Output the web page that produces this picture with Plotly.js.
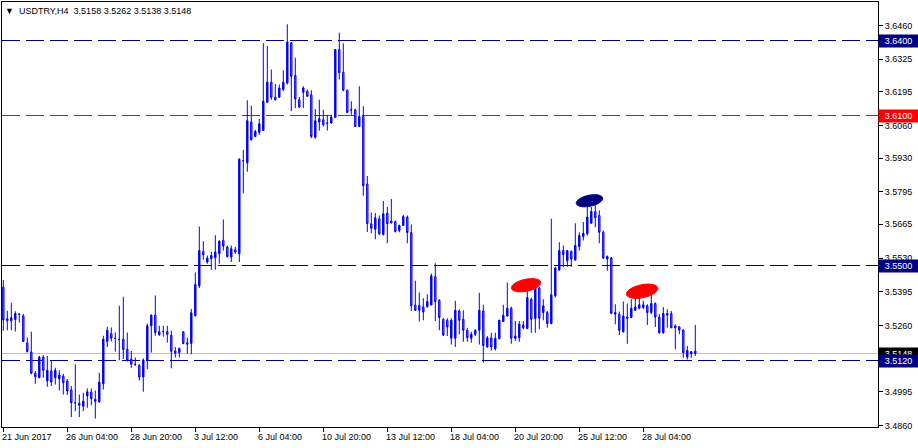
<!DOCTYPE html>
<html>
<head>
<meta charset="utf-8">
<script src="https://cdn.plot.ly/plotly-3.0.1.min.js"></script>
<style>html,body{margin:0;padding:0;background:#fff;}#chart{width:918px;height:448px;}</style>
</head>
<body>
<div id="chart"></div>
<script>
// ---- DATA (USDTRY, H4) ----
const symbol = "USDTRY,H4";
const openP = [
3.5413,3.5287,3.5279,3.5284,3.5304,3.5299,3.5191,3.5154,3.5069,3.5051,
3.5134,3.5038,3.5078,3.5051,3.5047,3.5058,3.5038,3.5002,3.4951,3.4949,
3.4937,3.4978,3.4994,3.4957,3.4955,3.5027,3.5196,3.5228,3.5209,3.5205,
3.5205,3.5165,3.5125,3.5105,3.5101,3.5054,3.5121,3.5259,3.5302,3.5223,
3.5235,3.5236,3.5221,3.5158,3.5152,3.5235,3.5185,3.5188,3.5299,3.5419,
3.5556,3.5514,3.5527,3.5531,3.5547,3.5601,3.5574,3.5534,3.5563,3.5547,
3.5920,3.5911,3.6074,3.6016,3.6033,3.6040,3.6153,3.6233,3.6173,3.6173,
3.6204,3.6230,3.6391,3.6260,3.6163,3.6193,3.6197,3.6183,3.6013,3.6074,
3.6083,3.6070,3.6070,3.6092,3.6364,3.6273,3.6201,3.6123,3.6123,3.6056,
3.6096,3.5826,3.5667,3.5645,3.5687,3.5624,3.5710,3.5678,3.5676,3.5640,
3.5660,3.5694,3.5632,3.5342,3.5341,3.5335,3.5335,3.5342,3.5455,3.5361,
3.5285,3.5281,3.5209,3.5209,3.5318,3.5285,3.5241,3.5209,3.5225,3.5241,
3.5318,3.5174,3.5211,3.5167,3.5207,3.5276,3.5298,3.5329,3.5218,3.5211,
3.5262,3.5248,3.5365,3.5288,3.5410,3.5312,3.5312,3.5268,3.5379,3.5482,
3.5560,3.5519,3.5557,3.5522,3.5576,3.5616,3.5627,3.5669,3.5716,3.5700,
3.5633,3.5526,3.5530,3.5312,3.5305,3.5235,3.5294,3.5292,3.5321,3.5329,
3.5332,3.5339,3.5312,3.5348,3.5294,3.5231,3.5302,3.5308,3.5251,3.5255,
3.5242,3.5134,3.5147,3.5158];
const highP = [
3.5442,3.5319,3.5351,3.5317,3.5308,3.5306,3.5212,3.5235,3.5078,3.5138,
3.5141,3.5138,3.5121,3.5091,3.5081,3.5067,3.5046,3.5018,3.5105,3.4984,
3.4991,3.5008,3.5008,3.5000,3.5071,3.5219,3.5255,3.5252,3.5232,3.5339,
3.5375,3.5232,3.5158,3.5132,3.5105,3.5128,3.5268,3.5303,3.5380,3.5259,
3.5259,3.5259,3.5239,3.5174,3.5172,3.5236,3.5212,3.5326,3.5472,3.5656,
3.5597,3.5540,3.5554,3.5621,3.5601,3.5684,3.5580,3.5580,3.5574,3.5929,
3.5962,3.6161,3.6139,3.6043,3.6086,3.6389,3.6378,3.6284,3.6226,3.6224,
3.6281,3.6465,3.6394,3.6331,3.6174,3.6217,3.6204,3.6201,3.6126,3.6163,
3.6123,3.6103,3.6103,3.6366,3.6431,3.6389,3.6204,3.6157,3.6126,3.6217,
3.6137,3.5858,3.5712,3.5710,3.5700,3.5758,3.5734,3.5766,3.5680,3.5664,
3.5702,3.5700,3.5664,3.5439,3.5392,3.5369,3.5385,3.5468,3.5509,3.5365,
3.5289,3.5289,3.5289,3.5359,3.5325,3.5321,3.5251,3.5235,3.5245,3.5391,
3.5343,3.5218,3.5231,3.5231,3.5283,3.5343,3.5432,3.5335,3.5278,3.5278,
3.5278,3.5412,3.5372,3.5446,3.5415,3.5365,3.5318,3.5687,3.5495,3.5593,
3.5580,3.5562,3.5560,3.5669,3.5633,3.5674,3.5745,3.5734,3.5741,3.5720,
3.5640,3.5540,3.5533,3.5345,3.5316,3.5356,3.5348,3.5365,3.5405,3.5385,
3.5359,3.5345,3.5392,3.5352,3.5305,3.5334,3.5325,3.5318,3.5265,3.5258,
3.5245,3.5178,3.5158,3.5262];
const lowP = [
3.5239,3.5241,3.5241,3.5236,3.5272,3.5194,3.5152,3.5065,3.5027,3.5049,
3.5051,3.5015,3.5018,3.5024,3.5000,3.4984,3.4982,3.4894,3.4917,3.4894,
3.4917,3.4931,3.4941,3.4888,3.4951,3.5004,3.5174,3.5196,3.5156,3.5121,
3.5126,3.5116,3.5091,3.5098,3.5040,3.4995,3.5085,3.5152,3.5219,3.5219,
3.5215,3.5192,3.5089,3.5132,3.5132,3.5185,3.5148,3.5145,3.5296,3.5410,
3.5523,3.5507,3.5483,3.5483,3.5507,3.5560,3.5531,3.5514,3.5547,3.5514,
3.5788,3.5875,3.6000,3.6013,3.6023,3.6040,3.6150,3.6163,3.6160,3.6170,
3.6197,3.6224,3.6117,3.6130,3.6130,3.6130,3.6174,3.6009,3.6007,3.6039,
3.6056,3.6040,3.6067,3.6090,3.6244,3.6197,3.6110,3.6103,3.6054,3.6054,
3.5779,3.5634,3.5629,3.5605,3.5621,3.5620,3.5589,3.5669,3.5632,3.5633,
3.5659,3.5589,3.5318,3.5318,3.5276,3.5281,3.5332,3.5342,3.5278,3.5241,
3.5218,3.5218,3.5184,3.5174,3.5225,3.5195,3.5195,3.5191,3.5218,3.5184,
3.5111,3.5171,3.5160,3.5160,3.5205,3.5274,3.5296,3.5187,3.5198,3.5195,
3.5245,3.5245,3.5231,3.5231,3.5245,3.5281,3.5251,3.5265,3.5372,3.5479,
3.5493,3.5495,3.5495,3.5519,3.5560,3.5600,3.5620,3.5667,3.5653,3.5589,
3.5526,3.5479,3.5305,3.5265,3.5222,3.5231,3.5187,3.5289,3.5318,3.5325,
3.5325,3.5262,3.5305,3.5254,3.5227,3.5227,3.5251,3.5249,3.5164,3.5225,
3.5131,3.5124,3.5131,3.5138];
const closeP = [
3.5282,3.5279,3.5291,3.5308,3.5306,3.5196,3.5156,3.5069,3.5055,3.5134,
3.5081,3.5081,3.5034,3.5081,3.5062,3.5031,3.4998,3.4951,3.4950,3.4941,
3.4957,3.4995,3.4967,3.4965,3.5034,3.5205,3.5241,3.5209,3.5208,3.5204,
3.5164,3.5121,3.5105,3.5104,3.5054,3.5122,3.5259,3.5302,3.5232,3.5235,
3.5236,3.5225,3.5157,3.5150,3.5168,3.5188,3.5191,3.5311,3.5424,3.5560,
3.5543,3.5530,3.5540,3.5554,3.5597,3.5578,3.5536,3.5567,3.5554,3.5925,
3.5919,3.6079,3.6003,3.6036,3.6067,3.6157,3.6233,3.6173,3.6163,3.6210,
3.6233,3.6394,3.6257,3.6166,3.6134,3.6210,3.6177,3.6016,3.6079,3.6087,
3.6063,3.6069,3.6094,3.6364,3.6271,3.6201,3.6112,3.6122,3.6056,3.6096,
3.5819,3.5668,3.5649,3.5691,3.5627,3.5707,3.5667,3.5670,3.5636,3.5660,
3.5696,3.5632,3.5339,3.5321,3.5321,3.5314,3.5356,3.5459,3.5356,3.5292,
3.5222,3.5254,3.5281,3.5321,3.5281,3.5241,3.5211,3.5225,3.5241,3.5321,
3.5180,3.5211,3.5174,3.5209,3.5281,3.5301,3.5329,3.5209,3.5209,3.5265,
3.5251,3.5372,3.5285,3.5412,3.5289,3.5339,3.5268,3.5383,3.5490,3.5560,
3.5544,3.5560,3.5526,3.5580,3.5620,3.5629,3.5694,3.5716,3.5691,3.5633,
3.5530,3.5536,3.5309,3.5305,3.5241,3.5298,3.5289,3.5329,3.5334,3.5343,
3.5343,3.5312,3.5348,3.5294,3.5231,3.5308,3.5308,3.5251,3.5258,3.5242,
3.5151,3.5160,3.5155,3.5148];

// time-axis labels (bar index -> text)
const timeTickIdx = [0,16,32,48,64,80,96,112,128,144,160];
const timeTickText = ["21 Jun 2017","26 Jun 04:00","28 Jun 20:00","3 Jul 12:00","6 Jul 04:00",
  "10 Jul 20:00","13 Jul 12:00","18 Jul 04:00","20 Jul 20:00","25 Jul 12:00","28 Jul 04:00"];
// price-axis ticks
const priceTicks = [3.6460,3.6325,3.6195,3.6060,3.5930,3.5795,3.5665,3.5530,3.5395,3.5260,3.4995,3.4860];
// horizontal levels
const levelPrices = [3.6400, 3.6100, 3.5500, 3.5120];
const levelColors = ["#000080", "#ff0000", "#000080", "#000080"];
// marker ellipses (bar index, price)
const ellipseIdx = [130.7, 146.55, 159.7];
const ellipsePrice = [3.5421, 3.5759, 3.5397];
const ellipseColors = ["#ff0000", "#000080", "#ff0000"];

// ---- CHART ----
const W = 918, H = 448;
const M = {l: 2, r: 40, t: 2, b: 21};
const plotW = W - M.l - M.r, plotH = H - M.t - M.b;
const xr = [-0.325, -0.325 + plotW / 4];
const yTop = 3.6554, perPx = 0.0004;
const yr = [yTop - plotH * perPx, yTop];
const idx = openP.map((_, i) => i);
const last = closeP[closeP.length - 1];

function ellipsePath(cx, cy, a, b, deg) {
  const ppx = plotW / (xr[1] - xr[0]), ppy = plotH / (yr[1] - yr[0]);
  const th = deg * Math.PI / 180;
  let d = '';
  for (let k = 0; k <= 48; k++) {
    const t = k / 48 * 2 * Math.PI;
    const dx = a * Math.cos(t) * Math.cos(th) - b * Math.sin(t) * Math.sin(th);
    const dy = a * Math.cos(t) * Math.sin(th) + b * Math.sin(t) * Math.cos(th);
    d += (k ? 'L' : 'M') + (cx + dx / ppx).toFixed(4) + ',' + (cy + dy / ppy).toFixed(6);
  }
  return d + 'Z';
}

const FONT = "Liberation Sans, Arial, sans-serif";
const shapes = [];
shapes.push({type: 'line', xref: 'paper', x0: 0, x1: 1, yref: 'y', y0: last, y1: last,
  line: {color: '#c0c0c0', width: 1}, layer: 'below'});
levelPrices.forEach((p, k) => shapes.push({type: 'line', xref: 'paper', x0: 0, x1: 1, yref: 'y', y0: p, y1: p,
  line: {color: levelColors[k], width: 1, dash: '18px,6px'}, layer: 'below'}));
const ellA = [15, 13.5, 16], ellB = [6, 5.5, 6.5];
ellipseIdx.forEach((x, k) => shapes.push({type: 'path', xref: 'x', yref: 'y',
  path: ellipsePath(x, ellipsePrice[k], ellA[k], ellB[k], 12),
  fillcolor: ellipseColors[k], line: {color: ellipseColors[k], width: 1}, layer: 'above'}));

const annotations = [];
timeTickIdx.forEach((x, k) => annotations.push({x: x, xref: 'x', y: 0, yref: 'paper',
  xanchor: 'left', yanchor: 'top', yshift: -3, xshift: -3, showarrow: false,
  text: timeTickText[k], font: {family: FONT, size: 9, color: '#000'}}));
const boxPrices = [last].concat(levelPrices);
const boxColors = ['#000000'].concat(levelColors);
boxPrices.forEach((p, k) => annotations.push({x: 1, xref: 'paper', y: p, yref: 'y',
  xanchor: 'left', yanchor: 'middle', xshift: 0, showarrow: false,
  text: p.toFixed(4), bgcolor: boxColors[k], width: 37, height: 10, borderpad: 1, align: 'center',
  font: {family: FONT, size: 9, color: '#fff'}}));

const trace = {
  type: 'candlestick', x: idx, open: openP, high: highP, low: lowP, close: closeP,
  increasing: {line: {color: '#0000ff', width: 1}, fillcolor: '#0000ff'},
  decreasing: {line: {color: '#0000ff', width: 1}, fillcolor: '#f05a28'},
  whiskerwidth: 0, hoverinfo: 'skip', showlegend: false
};

const titleText = '<span style="font-size:9px">▼</span>\u00a0\u00a0' + symbol + '\u00a0\u00a0' +
  [openP.at(-1), highP.at(-1), lowP.at(-1), closeP.at(-1)].map(v => v.toFixed(4)).join(' ');

const layout = {
  width: W, height: H, margin: M, paper_bgcolor: '#fff', plot_bgcolor: '#fff',
  showlegend: false, hovermode: false, boxgap: 0.5,
  title: {text: titleText, x: 5 / W, xanchor: 'left', xref: 'container', y: 1 - 11 / H, yanchor: 'middle',
    font: {family: FONT, size: 9, color: '#000'}},
  xaxis: {type: 'linear', range: xr, rangeslider: {visible: false}, showgrid: false, zeroline: false,
    showline: true, mirror: true, linecolor: '#000', linewidth: 1,
    tickmode: 'array', tickvals: timeTickIdx, ticktext: timeTickText, showticklabels: false,
    ticks: 'outside', ticklen: 4, tickcolor: '#000', tickwidth: 1},
  yaxis: {range: yr, side: 'right', showgrid: false, zeroline: false,
    showline: true, mirror: true, linecolor: '#000', linewidth: 1,
    tickmode: 'array', tickvals: priceTicks, ticktext: priceTicks.map(v => v.toFixed(4)),
    ticks: 'outside', ticklen: 4, tickcolor: '#000', tickwidth: 1,
    tickfont: {family: FONT, size: 9, color: '#000'}},
  shapes: shapes, annotations: annotations
};

Plotly.newPlot('chart', [trace], layout, {displayModeBar: false, staticPlot: true});
</script>
</body>
</html>
